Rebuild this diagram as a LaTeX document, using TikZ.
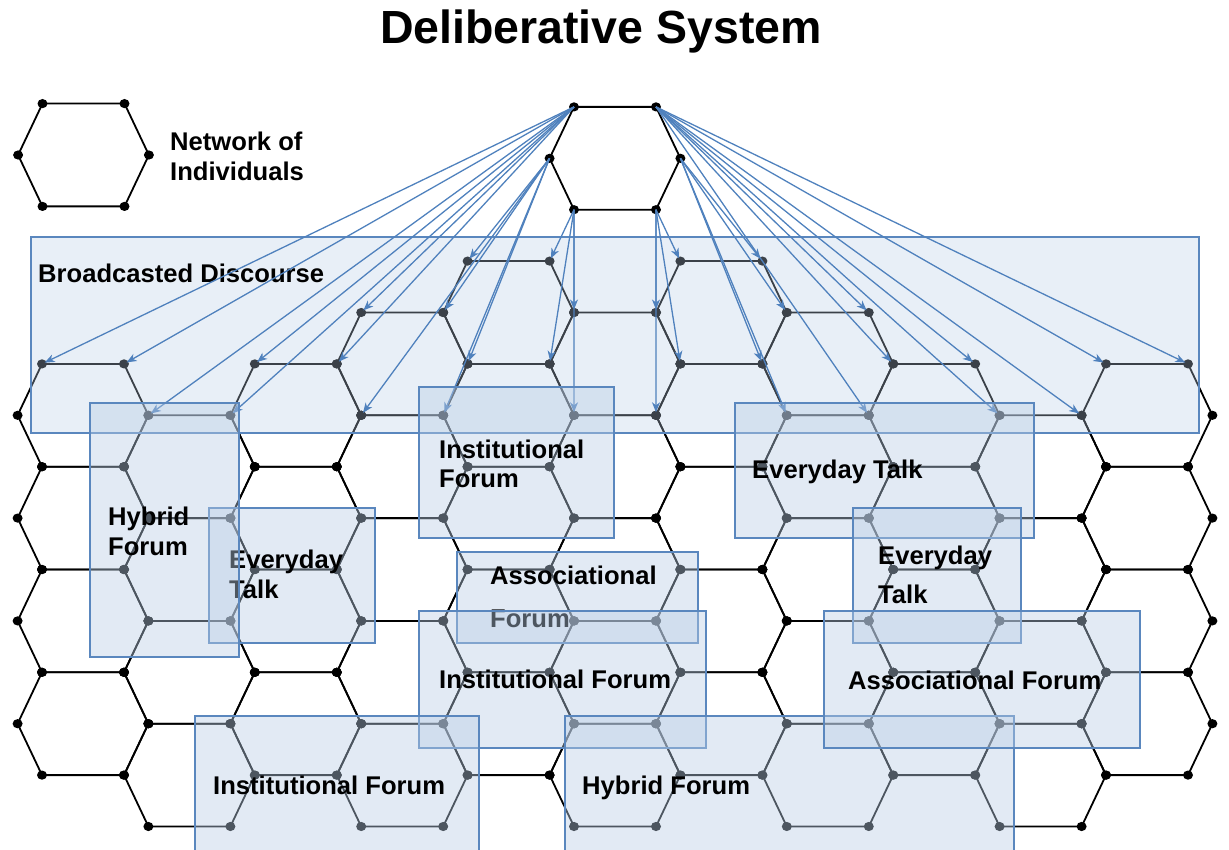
\documentclass[tikz,border=0pt]{standalone}
\usepackage{fontspec}
\setmainfont{Liberation Sans}
\usepackage{tikz}
\usetikzlibrary{arrows.meta}
\definecolor{linkblue}{RGB}{79,129,189}
\definecolor{panelblue}{RGB}{185,205,229}
\definecolor{paneledge}{RGB}{90,135,190}

% one cell of the network: name, centre x, centre y
\newcommand{\hexcell}[3]{%
  \coordinate (#1-tl) at ({#2-41},{#3-51.4});
  \coordinate (#1-tr) at ({#2+41},{#3-51.4});
  \coordinate (#1-r)  at ({#2+65.4},{#3});
  \coordinate (#1-br) at ({#2+41},{#3+51.4});
  \coordinate (#1-bl) at ({#2-41},{#3+51.4});
  \coordinate (#1-l)  at ({#2-65.4},{#3});
  \draw[hexline] (#1-tl) -- (#1-tr) -- (#1-r) -- (#1-br) -- (#1-bl) -- (#1-l) -- cycle;
  \foreach \v in {tl,tr,r,br,bl,l} \fill (#1-\v) circle[x radius=5pt, y radius=4.6pt];
}

\begin{document}
\begin{tikzpicture}[x=1pt, y=-1pt,
    hexline/.style={black, line width=1.8pt, line join=round},
    link/.style={draw=linkblue, line width=1.3pt, shorten >=3pt,
      -{Stealth[length=10pt,width=8pt,inset=3pt]}},
    panel/.style={fill=panelblue, fill opacity=0.42, draw=paneledge, line width=1.3pt},
    lbl/.style={anchor=north west, inner sep=0pt, align=left,
      font=\bfseries\fontsize{25.6}{30}\selectfont}]
    \useasboundingbox (0,0) rectangle (1229,850);

    % Title
    \node[anchor=base, font=\bfseries\fontsize{46.5}{50}\selectfont] (title) at (601,44) {Deliberative System};

    % Key
    \hexcell{key}{83.5}{155}
    \node[lbl] (keytext) at (170,132) {Network of\\Individuals};

    % Network cells, column by column
    \foreach \c/\rows in {0/{5,7,9,11}, 1/{6,8,10,12}, 2/{5,7,9,11},
        3/{4,6,8,10,12}, 4/{3,5,7,9,11}, 5/{4,6,8,10,12}, 6/{3,5,7,9,11},
        7/{4,6,8,10,12}, 8/{5,7,9,11}, 9/{6,8,10,12}, 10/{5,7,9,11}}
      \foreach \r in \rows {
        \pgfmathsetmacro{\hx}{83+106.4*\c}
        \pgfmathsetmacro{\hy}{158.3+51.4*\r}
        \hexcell{h\c-\r}{\hx}{\hy}
      }

    % Broadcasting cell
    \hexcell{top}{615}{158.3}

    % Broadcasted discourse
    \draw[panel, fill opacity=0.32] (31,237) rectangle (1199,433);
    \node[lbl] (bcast) at (38,264) {Broadcasted Discourse};

    % Links from the broadcasting cell
    \foreach \t in {h0-5-tl, h0-5-tr, h1-6-tl, h1-6-tr, h2-5-tl, h2-5-tr, h3-4-tl}
      \draw[link] (top-tl) -- (\t);
    \foreach \t in {h3-4-bl, h3-4-tr, h3-4-br, h4-3-tl, h4-3-bl}
      \draw[link] (top-l) -- (\t);
    \foreach \t in {h4-3-tr, h4-3-br, h5-4-tl, h5-4-bl}
      \draw[link] (top-bl) -- (\t);
    \foreach \t in {h5-4-tr, h5-4-br, h6-3-tl, h6-3-bl}
      \draw[link] (top-br) -- (\t);
    \foreach \t in {h6-3-tr, h6-3-br, h7-4-tl, h7-4-bl}
      \draw[link] (top-r) -- (\t);
    \foreach \t in {h7-4-tr, h7-4-r, h7-4-br, h8-5-tr, h8-5-r, h10-5-l, h10-5-tl, h10-5-tr}
      \draw[link] (top-tr) -- (\t);

    % Forums and talk
    \draw[panel] (209,508) rectangle (375,643);
    \node[lbl] (talkA) at (229,550) {Everyday\\Talk};

    \draw[panel] (90,403) rectangle (239,657);
    \node[lbl] (hybA) at (108,507) {Hybrid\\Forum};

    \draw[panel] (419,387) rectangle (614,538);
    \node[lbl, font=\bfseries\fontsize{25.6}{29}\selectfont] (instA) at (439,440) {Institutional\\Forum};

    \draw[panel] (457,552) rectangle (698,643);
    \node[lbl, font=\bfseries\fontsize{25.6}{43}\selectfont] (assocA) at (490,566) {Associational\\Forum};

    \draw[panel] (419,611) rectangle (706,748);
    \node[lbl] (instB) at (439,670) {Institutional Forum};

    \draw[panel] (195,716) rectangle (479,853);
    \node[lbl] (instC) at (213,776) {Institutional Forum};

    \draw[panel] (565,716) rectangle (1014,853);
    \node[lbl] (hybB) at (582,776) {Hybrid Forum};

    \draw[panel] (735,403) rectangle (1034,538);
    \node[lbl] (talkB) at (752,460) {Everyday Talk};

    \draw[panel] (853,508) rectangle (1021,643);
    \node[lbl, font=\bfseries\fontsize{25.6}{39}\selectfont] (talkC) at (878,546) {Everyday\\Talk};

    \draw[panel] (824,611) rectangle (1140,748);
    \node[lbl] (assocB) at (848,671) {Associational Forum};
\end{tikzpicture}
\end{document}
